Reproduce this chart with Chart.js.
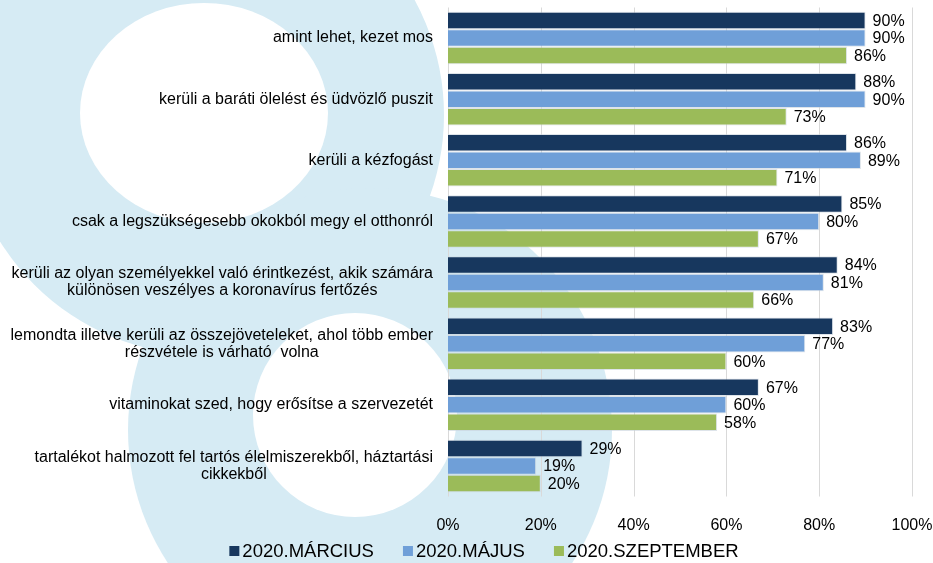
<!DOCTYPE html>
<html>
<head>
<meta charset="utf-8">
<script src="https://cdn.jsdelivr.net/npm/chart.js@4.4.0/dist/chart.umd.min.js"></script>
<style>
  html, body { margin: 0; padding: 0; background: #fff; }
  #wrap { width: 933px; height: 563px; }
</style>
</head>
<body>
<div id="wrap"><canvas id="chart" width="933" height="563"></canvas></div>
<script>
// categories (multi-line labels as arrays)
const categories = [
  ['amint lehet, kezet mos'],
  ['kerüli a baráti ölelést és üdvözlő puszit'],
  ['kerüli a kézfogást'],
  ['csak a legszükségesebb okokból megy el otthonról'],
  ['kerüli az olyan személyekkel való érintkezést, akik számára', 'különösen veszélyes a koronavírus fertőzés'],
  ['lemondta illetve kerüli az összejöveteleket, ahol több ember', 'részvétele is várható  volna'],
  ['vitaminokat szed, hogy erősítse a szervezetét'],
  ['tartalékot halmozott fel tartós élelmiszerekből, háztartási', 'cikkekből']
];
const seriesNames = ['2020.MÁRCIUS', '2020.MÁJUS', '2020.SZEPTEMBER'];
const marcius = [90, 88, 86, 85, 84, 83, 67, 29];
const majus = [90, 90, 89, 80, 81, 77, 60, 19];
const szeptember = [86, 73, 71, 67, 66, 60, 58, 20];
const xTicks = [0, 20, 40, 60, 80, 100];

const colors = ['#17375e', '#6f9fd8', '#9bbb59'];
const FONT = '"Liberation Sans", Arial, sans-serif';

// decorative light blue rings behind the chart (two linked rings)
const backdrop = {
  id: 'backdrop',
  beforeDraw(chart) {
    const ctx = chart.ctx;
    ctx.save();
    ctx.fillStyle = '#fff';
    ctx.fillRect(0, 0, chart.width, chart.height);
    ctx.fillStyle = '#d6ebf4';
    ctx.beginPath();
    ctx.arc(204, 115, 240, 0, Math.PI * 2);
    ctx.fill();
    ctx.beginPath();
    ctx.arc(370, 430, 242, 0, Math.PI * 2);
    ctx.fill();
    ctx.fillStyle = '#fff';
    ctx.beginPath();
    ctx.ellipse(204, 113, 124, 110, 0, 0, Math.PI * 2);
    ctx.fill();
    ctx.beginPath();
    ctx.arc(355, 415, 102, 0, Math.PI * 2);
    ctx.fill();
    ctx.restore();
  }
};

// vertical grid lines at the x ticks
const gridLines = {
  id: 'gridLines',
  beforeDatasetsDraw(chart) {
    const ctx = chart.ctx;
    const x = chart.scales.x;
    const a = chart.chartArea;
    ctx.save();
    ctx.strokeStyle = '#d9d9d9';
    ctx.lineWidth = 1;
    xTicks.forEach(v => {
      const px = Math.round(x.getPixelForValue(v)) + 0.5;
      ctx.beginPath();
      ctx.moveTo(px, a.top);
      ctx.lineTo(px, a.bottom);
      ctx.stroke();
    });
    ctx.restore();
  }
};

// category labels: block right-aligned, lines centred inside the block
const catLabels = {
  id: 'catLabels',
  afterDraw(chart) {
    const ctx = chart.ctx;
    const y = chart.scales.y;
    ctx.save();
    ctx.font = '16px ' + FONT;
    ctx.fillStyle = '#000';
    ctx.textBaseline = 'middle';
    ctx.textAlign = 'center';
    categories.forEach((lines, i) => {
      const cy = y.getPixelForValue(i);
      const w = Math.max(...lines.map(l => ctx.measureText(l).width));
      const cx = 433 - w / 2;
      lines.forEach((l, j) => {
        ctx.fillText(l, cx, cy + (j - (lines.length - 1) / 2) * 17);
      });
    });
    ctx.restore();
  }
};

// value labels at the end of bars
const valueLabels = {
  id: 'valueLabels',
  afterDatasetsDraw(chart) {
    const ctx = chart.ctx;
    ctx.save();
    ctx.font = '16px ' + FONT;
    ctx.fillStyle = '#000';
    ctx.textBaseline = 'middle';
    ctx.textAlign = 'left';
    chart.data.datasets.forEach((ds, di) => {
      chart.getDatasetMeta(di).data.forEach((bar, i) => {
        ctx.fillText(ds.data[i] + '%', bar.x + 7, bar.y + 1);
      });
    });
    ctx.restore();
  }
};

// legend under the axis: small squares, tight gap to text
const bottomLegend = {
  id: 'bottomLegend',
  afterDraw(chart) {
    const ctx = chart.ctx;
    ctx.save();
    ctx.font = '18.5px ' + FONT;
    ctx.textBaseline = 'middle';
    ctx.textAlign = 'left';
    const box = 10, gap = 3, spacing = 29, cy = 551;
    const widths = chart.data.datasets.map(ds => box + gap + ctx.measureText(ds.label).width);
    const total = widths.reduce((s, w) => s + w, 0) + spacing * (widths.length - 1);
    let x = 484 - total / 2;
    chart.data.datasets.forEach((ds, i) => {
      ctx.fillStyle = ds.backgroundColor;
      ctx.fillRect(x, cy - box / 2, box, box);
      ctx.fillStyle = '#000';
      ctx.fillText(ds.label, x + box + gap, cy + 1);
      x += widths[i] + spacing;
    });
    ctx.restore();
  }
};

new Chart(document.getElementById('chart'), {
  type: 'bar',
  data: {
    labels: categories,
    datasets: [
      { label: seriesNames[0], data: marcius, backgroundColor: colors[0] },
      { label: seriesNames[1], data: majus, backgroundColor: colors[1] },
      { label: seriesNames[2], data: szeptember, backgroundColor: colors[2] }
    ]
  },
  options: {
    indexAxis: 'y',
    responsive: false,
    animation: false,
    devicePixelRatio: 1,
    layout: { padding: { top: 7.5, right: 21, left: 0, bottom: 30.5 } },
    datasets: {
      bar: {
        categoryPercentage: 0.86,
        barPercentage: 1,
        borderWidth: 1,
        borderColor: 'rgba(200,210,220,0.6)'
      }
    },
    scales: {
      x: {
        min: 0,
        max: 100,
        afterBuildTicks(scale) {
          scale.ticks = xTicks.map(v => ({ value: v }));
        },
        afterFit(scale) {
          scale.height = 36;
          scale.paddingLeft = 0;
          scale.paddingRight = 0;
        },
        grid: { display: false },
        border: { display: false },
        ticks: {
          padding: 11,
          color: '#000',
          font: { family: FONT, size: 16 },
          callback: v => v + '%'
        }
      },
      y: {
        afterFit(scale) { scale.width = 448; },
        grid: { display: false },
        border: { display: false },
        ticks: { display: false }
      }
    },
    plugins: {
      legend: { display: false },
      tooltip: { enabled: false }
    }
  },
  plugins: [backdrop, gridLines, catLabels, valueLabels, bottomLegend]
});
</script>
</body>
</html>
